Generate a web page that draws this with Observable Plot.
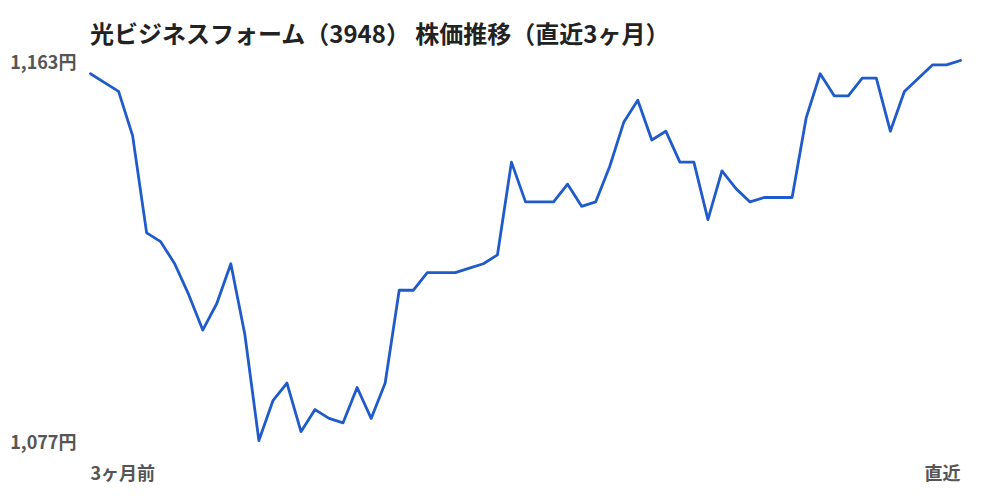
<!DOCTYPE html>
<html>
<head>
<meta charset="utf-8">
<script src="https://cdn.jsdelivr.net/npm/d3@7"></script>
<script src="https://cdn.jsdelivr.net/npm/@observablehq/plot@0.6"></script>
<style>
  html, body { margin: 0; padding: 0; background: #fff; }
  #title { box-sizing: border-box; height: 40px; padding: 21px 0 0 90px; font: 700 24px/1 "Noto Sans CJK JP", sans-serif; color: #222; white-space: nowrap; overflow: visible; }
  #chart svg { overflow: visible; }
</style>
</head>
<body>
<div id="title">光ビジネスフォーム（3948） 株価推移（直近3ヶ月）</div>
<div id="chart"></div>
<script>
const title = "光ビジネスフォーム（3948） 株価推移（直近3ヶ月）";
const prices = [
  1160, 1158, 1156, 1146, 1124, 1122, 1117, 1110, 1102, 1108,
  1117, 1101, 1077, 1086, 1090, 1079, 1084, 1082, 1081, 1089,
  1082, 1090, 1111, 1111, 1115, 1115, 1115, 1116, 1117, 1119,
  1140, 1131, 1131, 1131, 1135, 1130, 1131, 1139, 1149, 1154,
  1145, 1147, 1140, 1140, 1127, 1138, 1134, 1131, 1132, 1132,
  1132, 1150, 1160, 1155, 1155, 1159, 1159, 1147, 1156, 1159,
  1162, 1162, 1163
];
const yTicks = [1077, 1163];
const xLabels = ["3ヶ月前", "直近"];

const data = prices.map((v, i) => ({i, v}));
const last = prices.length - 1;
const fmt = d3.format(",");

const chart = Plot.plot({
  width: 1000,
  height: 460,
  marginTop: 20,
  marginBottom: 60,
  marginLeft: 90,
  marginRight: 40,
  style: {fontFamily: '"Noto Sans CJK JP", sans-serif', background: "#fff", overflow: "visible"},
  x: {domain: [0, last], axis: null},
  y: {domain: [d3.min(prices), d3.max(prices)], axis: null},
  marks: [
    Plot.axisY(yTicks, {
      tickSize: 0, tickPadding: 14, fontSize: 18, fontWeight: 700, fill: "#555", dy: 3,
      tickFormat: d => fmt(d) + "円", label: null
    }),
    Plot.lineY(data, {x: "i", y: "v", stroke: "#1f5bc9", strokeWidth: 2.8}),
    Plot.text([{x: 0, t: xLabels[0]}], {x: "x", text: "t", textAnchor: "start", frameAnchor: "bottom", dy: 39, fontSize: 18, fontWeight: 700, fill: "#555"}),
    Plot.text([{x: last, t: xLabels[1]}], {x: "x", text: "t", textAnchor: "end", frameAnchor: "bottom", dy: 39, fontSize: 18, fontWeight: 700, fill: "#555"})
  ]
});
document.getElementById("chart").appendChild(chart);
</script>
</body>
</html>
